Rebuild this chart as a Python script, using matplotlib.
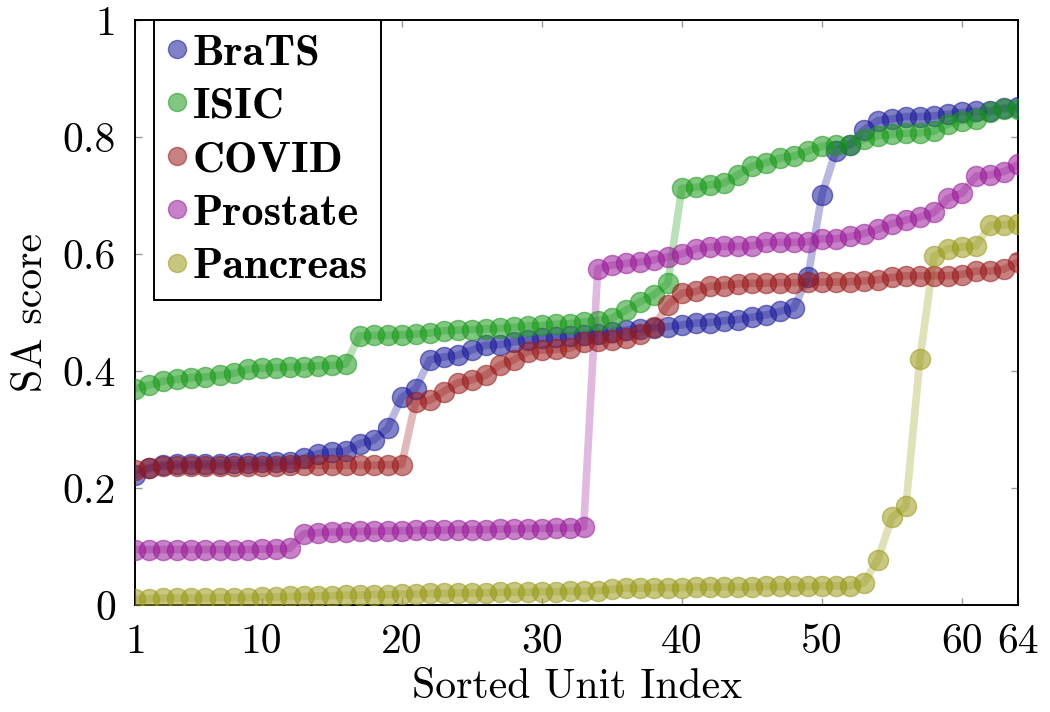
import numpy as np
import matplotlib
matplotlib.use("Agg")
import matplotlib.pyplot as plt
from matplotlib.lines import Line2D

# sorted SA score per unit
units = np.arange(1, 65)

brats = [0.222, 0.234, 0.240, 0.241, 0.241, 0.242, 0.242, 0.243, 0.243, 0.244,
         0.244, 0.245, 0.251, 0.259, 0.262, 0.263, 0.276, 0.282, 0.302, 0.355,
         0.370, 0.419, 0.424, 0.427, 0.436, 0.444, 0.445, 0.450, 0.453, 0.456,
         0.458, 0.460, 0.462, 0.464, 0.467, 0.470, 0.472, 0.473, 0.476, 0.479,
         0.482, 0.483, 0.486, 0.488, 0.492, 0.496, 0.502, 0.508, 0.560, 0.701,
         0.776, 0.787, 0.812, 0.828, 0.831, 0.835, 0.835, 0.836, 0.839, 0.842,
         0.844, 0.845, 0.850, 0.851]

isic = [0.370, 0.376, 0.383, 0.386, 0.389, 0.390, 0.393, 0.396, 0.403, 0.405,
        0.406, 0.407, 0.407, 0.409, 0.410, 0.412, 0.460, 0.461, 0.461, 0.462,
        0.463, 0.465, 0.469, 0.470, 0.471, 0.472, 0.473, 0.475, 0.477, 0.478,
        0.480, 0.481, 0.484, 0.486, 0.490, 0.504, 0.518, 0.530, 0.550, 0.712,
        0.714, 0.718, 0.721, 0.735, 0.750, 0.756, 0.764, 0.767, 0.776, 0.784,
        0.787, 0.787, 0.796, 0.802, 0.805, 0.806, 0.807, 0.810, 0.822, 0.828,
        0.831, 0.842, 0.848, 0.848]

covid = [0.231, 0.235, 0.237, 0.238, 0.238, 0.238, 0.238, 0.238, 0.238, 0.238,
         0.238, 0.239, 0.239, 0.239, 0.239, 0.239, 0.239, 0.239, 0.240, 0.240,
         0.348, 0.350, 0.365, 0.380, 0.385, 0.393, 0.410, 0.419, 0.433, 0.436,
         0.437, 0.439, 0.450, 0.451, 0.453, 0.457, 0.464, 0.476, 0.513, 0.533,
         0.536, 0.545, 0.546, 0.549, 0.550, 0.550, 0.551, 0.551, 0.552, 0.552,
         0.552, 0.553, 0.554, 0.556, 0.560, 0.563, 0.563, 0.563, 0.563, 0.565,
         0.571, 0.571, 0.574, 0.587]

prostate = [0.095, 0.095, 0.095, 0.095, 0.095, 0.095, 0.095, 0.095, 0.095, 0.096,
            0.096, 0.097, 0.122, 0.124, 0.125, 0.125, 0.126, 0.126, 0.127, 0.127,
            0.128, 0.128, 0.128, 0.129, 0.129, 0.129, 0.130, 0.130, 0.131, 0.131,
            0.132, 0.132, 0.134, 0.575, 0.581, 0.584, 0.586, 0.590, 0.595, 0.600,
            0.609, 0.612, 0.613, 0.613, 0.614, 0.620, 0.620, 0.620, 0.621, 0.626,
            0.626, 0.630, 0.635, 0.642, 0.652, 0.658, 0.663, 0.671, 0.695, 0.704,
            0.733, 0.735, 0.741, 0.753]

pancreas = [0.010, 0.011, 0.012, 0.012, 0.012, 0.012, 0.013, 0.013, 0.013, 0.014,
            0.014, 0.015, 0.015, 0.016, 0.016, 0.017, 0.017, 0.018, 0.018, 0.019,
            0.019, 0.020, 0.020, 0.021, 0.021, 0.021, 0.022, 0.022, 0.022, 0.023,
            0.023, 0.024, 0.024, 0.025, 0.027, 0.029, 0.029, 0.030, 0.030, 0.030,
            0.031, 0.031, 0.031, 0.031, 0.031, 0.032, 0.032, 0.032, 0.032, 0.033,
            0.033, 0.033, 0.038, 0.078, 0.150, 0.169, 0.420, 0.596, 0.609, 0.612,
            0.614, 0.649, 0.650, 0.652]

series = [("BraTS", brats, "#1a1a99"),
          ("ISIC", isic, "#1a991a"),
          ("COVID", covid, "#991a1a"),
          ("Prostate", prostate, "#991a99"),
          ("Pancreas", pancreas, "#99991a")]

xticks = [1, 10, 20, 30, 40, 50, 60, 64]
yticks = [0, 0.2, 0.4, 0.6, 0.8, 1]
yticklabels = ["0", "0.2", "0.4", "0.6", "0.8", "1"]

plt.rcParams["font.family"] = "cmr10"
plt.rcParams["axes.formatter.use_mathtext"] = True
FS = 30

fig = plt.figure(figsize=(10.5, 7.12), dpi=100)
ax = fig.add_axes([0.129, 0.150, 0.8405, 0.822])

handles = []
for name, vals, col in series:
    ax.plot(units, vals, color=col, lw=5.5, alpha=0.3, solid_capstyle="round", zorder=2)
    ax.plot(units, vals, linestyle="None", marker="o", markersize=14.5,
            color=col, markeredgecolor=col, alpha=0.55, zorder=3)
    handles.append(Line2D([], [], linestyle="None", marker="o", markersize=13,
                          color=col, alpha=0.55, label=name))

ax.set_xlim(1, 64)
ax.set_ylim(0, 1)
ax.set_xticks(xticks)
ax.set_xticklabels([str(t) for t in xticks])
ax.set_yticks(yticks)
ax.set_yticklabels(yticklabels)
ax.tick_params(direction="in", top=True, right=True, length=5, width=1,
               color="#999999", labelsize=FS)
ax.tick_params(axis="x", pad=13)
ax.tick_params(axis="y", pad=14)
for s in ax.spines.values():
    s.set_linewidth(1.4)
    s.set_color("black")

ax.set_xlabel("Sorted Unit Index", fontsize=FS)
ax.set_ylabel("SA score", fontsize=FS)
ax.xaxis.set_label_coords(0.5, -0.108)
ax.yaxis.set_label_coords(-0.097, 0.5)

leg = ax.legend(handles=handles, loc="upper left", bbox_to_anchor=(0.021, 1.0),
                borderaxespad=0, frameon=True, fancybox=False, framealpha=1,
                edgecolor="black", handlelength=0.45, handletextpad=0.12,
                borderpad=0.3, labelspacing=0.3,
                prop={"family": "cmb10", "size": 32})
leg.get_frame().set_linewidth(1.4)
leg.set_zorder(5)

fig.savefig("out.png", dpi=100)
